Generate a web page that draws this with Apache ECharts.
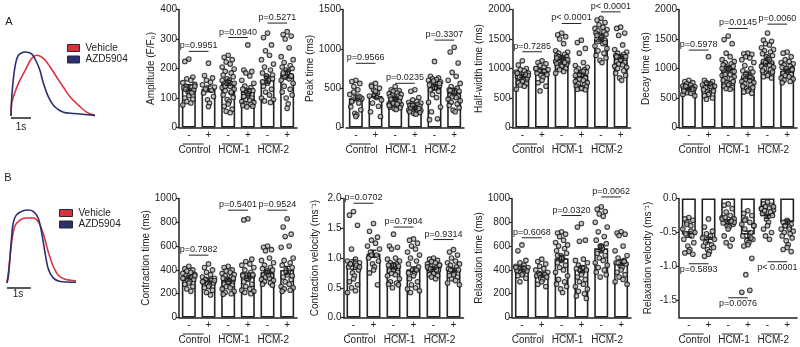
<!DOCTYPE html>
<html>
<head>
<meta charset="utf-8">
<title>AZD5904: calcium and contraction transients</title>
<script src="https://cdn.jsdelivr.net/npm/echarts@6/dist/echarts.min.js"></script>
<style>
  html, body { margin: 0; padding: 0; background: #fff; }
  #chart { width: 800px; height: 347px; }
</style>
</head>
<body>
<div id="chart"></div>
<script>
// ---- categories ----
const conditions = ["C-", "C+", "H1-", "H1+", "H2-", "H2+"];
const conditionLabels = ["-", "+", "-", "+", "-", "+"];
const groups = ["Control", "HCM-1", "HCM-2"];
const legendNames = ["Vehicle", "AZD5904"];

// ---- representative traces [time s, normalised] ----
const traceAVehicle = [[0, 0], [0.03, 0.2], [0.12, 0.3], [0.37, 0.51], [0.7, 0.71], [1.03, 0.9], [1.28, 0.95], [1.62, 0.9], [1.95, 0.77], [2.28, 0.61], [2.62, 0.45], [2.95, 0.3], [3.37, 0.17], [3.78, 0.06], [4.2, 0.01]];
const traceAAzd = [[0, 0], [0.05, 0.35], [0.2, 0.77], [0.37, 0.95], [0.7, 1.0], [1.03, 0.97], [1.28, 0.84], [1.45, 0.71], [1.62, 0.51], [1.87, 0.3], [2.2, 0.14], [2.62, 0.06], [3.12, 0.04], [4.2, 0.01]];
const traceBVehicle = [[0, 0], [0.08, 0.2], [0.18, 0.52], [0.32, 0.77], [0.54, 0.86], [0.82, 0.89], [1.1, 0.89], [1.31, 0.84], [1.52, 0.68], [1.73, 0.43], [1.94, 0.23], [2.15, 0.11], [2.44, 0.05], [2.9, 0.03]];
const traceBAzd = [[0, 0], [0.06, 0.1], [0.18, 0.57], [0.25, 0.8], [0.39, 0.93], [0.68, 0.99], [0.89, 1.0], [1.1, 0.98], [1.31, 0.89], [1.45, 0.7], [1.59, 0.43], [1.73, 0.2], [1.94, 0.07], [2.23, 0.02], [2.9, 0.01]];
const scaleBarSec = [0, 1];

// ---- A: amplitude ----
const ampMean = [136, 131, 151, 122, 162, 179];
const ampSem = [9, 10, 8, 8, 12, 11];
const ampPoints = [
  [232, 224, 171, 165, 160, 152, 146, 140, 137, 134, 128, 122, 117, 108, 100, 96, 88, 83, 76, 140, 130, 118],
  [218, 176, 168, 160, 153, 145, 137, 130, 126, 117, 105, 94, 83, 71],
  [245, 238, 230, 222, 215, 205, 198, 190, 185, 178, 172, 165, 160, 155, 150, 148, 145, 140, 135, 130, 125, 118, 110, 102, 95, 88, 80, 72, 62, 55, 50, 160, 150, 140, 120],
  [280, 195, 190, 185, 175, 160, 150, 140, 135, 130, 125, 120, 115, 110, 105, 100, 95, 92, 88, 85, 80, 78, 75, 72, 70, 125, 115, 105],
  [320, 305, 280, 260, 245, 230, 215, 205, 195, 185, 178, 170, 160, 150, 140, 130, 120, 110, 100, 95, 90, 85, 155, 165, 175],
  [325, 315, 310, 300, 270, 240, 230, 220, 210, 205, 200, 195, 190, 185, 180, 175, 170, 165, 160, 150, 140, 130, 120, 110, 100, 80, 65, 185, 175]
];
const ampP = ["p=0.9951", "p=0.0940", "p=0.5271"];
const ampPLine = [258, 305, 354];

// ---- A: peak time ----
const peakMean = [372, 401, 350, 258, 511, 456];
const peakSem = [30, 28, 12, 12, 35, 40];
const peakPoints = [
  [600, 585, 560, 520, 480, 420, 370, 350, 310, 265, 225, 180, 160, 140, 330, 390, 450, 400],
  [560, 540, 500, 480, 440, 400, 350, 310, 270, 200, 140, 420, 380, 460, 520],
  [520, 480, 470, 460, 440, 430, 420, 410, 400, 390, 380, 370, 360, 350, 340, 330, 320, 310, 300, 290, 280, 270, 260, 250, 240, 230, 350, 360, 330, 310, 300, 280],
  [480, 460, 380, 350, 330, 320, 310, 300, 290, 280, 270, 260, 250, 245, 240, 235, 230, 225, 220, 215, 210, 205, 200, 190, 180, 170, 260, 250, 240, 280],
  [840, 650, 630, 620, 610, 600, 580, 560, 550, 540, 530, 520, 510, 500, 480, 460, 420, 380, 320, 260, 200, 110, 100, 560, 590],
  [1020, 960, 820, 700, 650, 600, 560, 520, 500, 480, 460, 440, 430, 420, 410, 400, 390, 380, 360, 340, 320, 300, 280, 250, 220, 200, 450, 470]
];
const peakP = ["p=0.9566", "p=0.0235", "p=0.3307"];
const peakPLine = [816, 562, 1111];

// ---- A: half-width time ----
const halfMean = [873, 958, 1172, 890, 1493, 1200];
const halfSem = [25, 30, 22, 30, 30, 35];
const halfPoints = [
  [1130, 1060, 1000, 980, 960, 940, 920, 900, 880, 860, 840, 820, 800, 780, 760, 740, 720, 700, 650, 880, 850, 900, 920],
  [1130, 1100, 1080, 1050, 1020, 1000, 980, 960, 940, 920, 900, 880, 850, 800, 760, 700, 620, 950, 1000],
  [1600, 1570, 1540, 1500, 1420, 1300, 1280, 1260, 1240, 1220, 1200, 1190, 1180, 1170, 1160, 1150, 1140, 1130, 1120, 1110, 1100, 1090, 1080, 1070, 1060, 1050, 1040, 1020, 1000, 980, 950, 920, 1150, 1200, 1100, 1180],
  [1480, 1440, 1340, 1260, 1100, 1050, 1020, 1000, 980, 960, 940, 920, 900, 880, 860, 840, 820, 800, 780, 760, 740, 720, 700, 690, 680, 670, 660, 650, 640, 900, 950, 880],
  [1850, 1820, 1780, 1740, 1700, 1680, 1660, 1640, 1620, 1600, 1580, 1560, 1540, 1520, 1500, 1480, 1460, 1420, 1380, 1340, 1300, 1260, 1220, 1180, 1140, 1100, 1520, 1560, 1440],
  [1700, 1680, 1600, 1560, 1400, 1320, 1280, 1260, 1240, 1220, 1200, 1180, 1160, 1140, 1120, 1100, 1080, 1060, 1040, 1020, 1000, 960, 920, 880, 840, 800, 1150, 1200]
];
const halfP = ["p=0.7285", "p< 0.0001", "p< 0.0001"];
const halfPLine = [1284, 1763, 1960];

// ---- A: decay time ----
const decayMean = [654, 738, 1003, 862, 1115, 963];
const decaySem = [12, 30, 30, 30, 30, 25];
const decayPoints = [
  [800, 780, 760, 740, 720, 700, 690, 680, 670, 660, 650, 640, 630, 620, 610, 600, 590, 580, 560, 540, 700, 650, 620],
  [1200, 800, 780, 760, 740, 720, 700, 680, 660, 640, 620, 600, 580, 560, 540, 500, 480, 700],
  [1550, 1490, 1420, 1260, 1200, 1150, 1120, 1100, 1080, 1060, 1040, 1020, 1000, 980, 960, 940, 920, 900, 880, 860, 840, 820, 800, 780, 760, 740, 720, 700, 680, 660, 650, 1000, 950, 900],
  [1260, 1250, 1240, 1200, 1180, 1150, 1100, 1050, 1000, 960, 940, 920, 900, 880, 860, 840, 820, 800, 780, 760, 740, 720, 700, 680, 660, 640, 620, 600, 580, 900, 850],
  [1600, 1480, 1460, 1420, 1400, 1350, 1320, 1300, 1280, 1250, 1220, 1200, 1180, 1150, 1120, 1100, 1080, 1060, 1040, 1020, 1000, 980, 960, 940, 920, 900, 880, 860, 840, 1100, 1150],
  [1280, 1260, 1200, 1150, 1120, 1100, 1080, 1060, 1040, 1020, 1000, 980, 960, 940, 920, 900, 880, 860, 840, 820, 800, 780, 760, 980, 1000]
];
const decayP = ["p=0.5978", "p=0.0145", "p=0.0060"];
const decayPLine = [1312, 1679, 1752];

// ---- B: contraction time ----
const ctMean = [338, 318, 315, 352, 380, 400];
const ctSem = [12, 14, 10, 22, 14, 30];
const ctPoints = [
  [430, 410, 400, 390, 380, 370, 360, 350, 340, 330, 320, 310, 300, 290, 280, 260, 240, 220, 330, 350],
  [450, 420, 400, 380, 360, 340, 330, 320, 310, 300, 290, 280, 270, 260, 250, 230, 210, 190, 300, 310],
  [430, 420, 400, 390, 380, 370, 360, 350, 340, 330, 320, 310, 300, 290, 280, 270, 260, 250, 240, 220, 210, 200, 195, 330, 320, 310, 300],
  [830, 820, 490, 470, 450, 440, 420, 400, 380, 360, 350, 340, 330, 320, 300, 280, 260, 240, 230, 220, 210, 200, 350, 360, 330],
  [600, 590, 570, 560, 500, 480, 460, 440, 420, 410, 400, 390, 380, 370, 360, 350, 340, 330, 320, 310, 300, 290, 280, 270, 380, 360, 390],
  [830, 760, 700, 680, 600, 590, 500, 480, 460, 440, 420, 400, 380, 360, 340, 320, 300, 280, 260, 250, 240, 230, 220, 350, 380]
];
const ctP = ["p=0.7982", "p=0.5401", "p=0.9524"];
const ctPLine = [524, 902, 902];

// ---- B: contraction velocity ----
const cvMean = [0.89, 1.07, 0.87, 0.81, 0.83, 0.80];
const cvSem = [0.08, 0.06, 0.04, 0.04, 0.02, 0.03];
const cvPoints = [
  [1.78, 1.72, 1.55, 1.15, 0.98, 0.95, 0.92, 0.9, 0.88, 0.85, 0.8, 0.75, 0.7, 0.65, 0.6, 0.55, 0.5, 0.45, 0.42, 0.85, 0.9],
  [1.58, 1.45, 1.35, 1.3, 1.25, 1.2, 1.15, 1.1, 1.05, 1.0, 0.95, 0.9, 0.85, 0.8, 0.75, 0.55, 1.05],
  [1.4, 1.2, 1.18, 1.15, 1.0, 0.98, 0.95, 0.92, 0.9, 0.88, 0.86, 0.84, 0.82, 0.8, 0.78, 0.76, 0.74, 0.72, 0.7, 0.65, 0.6, 0.58, 0.56, 0.55, 0.5, 0.85, 0.88],
  [1.32, 1.3, 1.25, 1.2, 1.15, 1.1, 1.05, 1.0, 0.95, 0.9, 0.85, 0.8, 0.75, 0.7, 0.65, 0.6, 0.55, 0.5, 0.48, 0.45, 0.42, 0.8, 0.75],
  [1.0, 0.98, 0.96, 0.94, 0.92, 0.9, 0.88, 0.86, 0.84, 0.82, 0.8, 0.78, 0.76, 0.74, 0.72, 0.7, 0.68, 0.65, 0.85, 0.88, 0.82, 0.8],
  [1.14, 1.1, 1.05, 1.0, 0.95, 0.92, 0.9, 0.88, 0.85, 0.82, 0.8, 0.78, 0.75, 0.72, 0.7, 0.68, 0.65, 0.62, 0.58, 0.55, 0.8]
];
const cvP = ["p=0.0702", "p=0.7904", "p=0.9314"];
const cvPLine = [1.92, 1.52, 1.31];

// ---- B: relaxation time ----
const rtMean = [419, 369, 497, 408, 581, 464];
const rtSem = [14, 13, 25, 25, 30, 22];
const rtPoints = [
  [610, 560, 480, 460, 440, 430, 420, 410, 400, 395, 390, 380, 370, 360, 350, 330, 300, 410, 420],
  [490, 470, 450, 430, 410, 400, 380, 370, 360, 350, 340, 330, 320, 300, 280, 260, 360],
  [720, 710, 700, 680, 650, 630, 610, 600, 580, 560, 540, 520, 500, 480, 460, 440, 420, 400, 380, 350, 320, 300, 280, 260, 240, 210, 500, 520],
  [790, 760, 650, 640, 490, 480, 460, 440, 420, 410, 400, 390, 380, 360, 340, 320, 300, 280, 260, 240, 220, 200, 180, 160, 400, 420],
  [930, 910, 890, 870, 850, 800, 760, 720, 680, 650, 620, 600, 580, 560, 540, 520, 500, 480, 460, 440, 420, 400, 380, 360, 340, 580, 600],
  [720, 710, 700, 690, 600, 560, 520, 500, 480, 460, 450, 440, 420, 400, 380, 360, 340, 320, 300, 280, 460, 470]
];
const rtP = ["p=0.6068", "p=0.0320", "p=0.0062"];
const rtPLine = [670, 857, 1013];

// ---- B: relaxation velocity ----
const rvMean = [-0.53, -0.61, -0.345, -0.53, -0.26, -0.345];
const rvSem = [0.04, 0.04, 0.03, 0.05, 0.03, 0.03];
const rvPoints = [
  [-0.28, -0.3, -0.32, -0.35, -0.4, -0.45, -0.5, -0.52, -0.55, -0.6, -0.65, -0.7, -0.75, -0.78, -0.8, -0.82, -0.38, -0.48],
  [-0.3, -0.42, -0.48, -0.52, -0.55, -0.58, -0.6, -0.65, -0.68, -0.7, -0.72, -0.75, -0.78, -0.82, -0.85],
  [-0.08, -0.1, -0.15, -0.2, -0.25, -0.28, -0.3, -0.32, -0.34, -0.36, -0.38, -0.4, -0.42, -0.45, -0.55, -0.6, -0.65, -0.7, -0.3, -0.35, -0.28, -0.33],
  [-0.18, -0.22, -0.25, -0.3, -0.35, -0.38, -0.4, -0.45, -0.5, -0.55, -0.6, -0.62, -0.65, -0.68, -0.7, -0.88, -1.12, -1.35, -1.38, -0.4, -0.32, -0.58],
  [-0.05, -0.08, -0.1, -0.12, -0.14, -0.15, -0.17, -0.18, -0.2, -0.22, -0.25, -0.3, -0.35, -0.4, -0.45, -0.5, -0.55, -0.6, -0.15, -0.12, -0.18],
  [-0.32, -0.35, -0.38, -0.4, -0.42, -0.45, -0.48, -0.5, -0.52, -0.55, -0.58, -0.62, -0.68, -0.72, -0.75, -0.78, -0.4, -0.45]
];
const rvP = ["p=0.5893", "p=0.0076", "p< 0.0001"];
const rvPLine = [-0.96, -1.46, -0.93];

// ---- styling ----
const FONT = "Liberation Sans, Arial, sans-serif";
const INK = "#222";
const RED = "#d8323c";
const NAVY = "#2b2f70";
const jitterPx = [0, -4, 4, -2, 2, -6, 6, -3, 3, -5, 5, -1, 1];

const rowA = { top: 9.5, height: 118 };
const rowB = { top: 198.5, height: 119 };

const panels = [
  { name: "Amplitude (F/F\u2080)", mean: ampMean, sem: ampSem, pts: ampPoints, p: ampP, pLine: ampPLine, min: 0, max: 400, interval: 100, left: 179, width: 118, row: rowA, nameGap: 15 },
  { name: "Peak time (ms)", mean: peakMean, sem: peakSem, pts: peakPoints, p: peakP, pLine: peakPLine, min: 0, max: 1500, interval: 500, left: 346, width: 118, row: rowA, nameGap: 20, yOffset: 3 },
  { name: "Half-width time (ms)", mean: halfMean, sem: halfSem, pts: halfPoints, p: halfP, pLine: halfPLine, min: 0, max: 2000, interval: 500, left: 512.5, width: 118, row: rowA, nameGap: 27 },
  { name: "Decay time (ms)", mean: decayMean, sem: decaySem, pts: decayPoints, p: decayP, pLine: decayPLine, min: 0, max: 2000, interval: 500, left: 679, width: 118, row: rowA, nameGap: 28 },
  { name: "Contraction time (ms)", mean: ctMean, sem: ctSem, pts: ctPoints, p: ctP, pLine: ctPLine, min: 0, max: 1000, interval: 200, left: 179, width: 118, row: rowB, nameGap: 27 },
  { name: "Contraction velocity (ms\u207B\u00B9)", mean: cvMean, sem: cvSem, pts: cvPoints, p: cvP, pLine: cvPLine, min: 0, max: 2, interval: 0.5, left: 343.5, width: 120, row: rowB, nameGap: 23, dec: 1 },
  { name: "Relaxation time (ms)", mean: rtMean, sem: rtSem, pts: rtPoints, p: rtP, pLine: rtPLine, min: 0, max: 1000, interval: 200, left: 512, width: 119, row: rowB, nameGap: 27 },
  { name: "Relaxation velocity (ms\u207B\u00B9)", mean: rvMean, sem: rvSem, pts: rvPoints, p: rvP, pLine: rvPLine, min: -1.75, max: 0, ticks: [0, -0.5, -1, -1.5], left: 679, width: 118, row: rowB, nameGap: 26, dec: 1, below: true }
];

const grid = [], xAxis = [], yAxis = [], series = [];

panels.forEach((pn, k) => {
  grid.push({ left: pn.left, top: pn.row.top, width: pn.width, height: pn.row.height });

  xAxis.push({
    gridIndex: k, type: "category", data: conditions,
    axisLine: { onZero: false, lineStyle: { color: INK, width: 1.5 } },
    axisTick: { show: false },
    axisLabel: { interval: 0, formatter: (v, i) => conditionLabels[i], margin: 3, fontSize: 10, color: INK, fontFamily: FONT }
  });
  xAxis.push({
    gridIndex: k, type: "category", data: groups, position: "bottom", offset: 14,
    axisLine: { show: false }, axisTick: { show: false },
    axisLabel: { interval: 0, hideOverlap: false, margin: 4, padding: [0, 8, 0, 0], fontSize: 10, color: INK, fontFamily: FONT }
  });

  const fmt = pn.dec ? (v) => v.toFixed(pn.dec) : (v) => String(v);
  const y = {
    gridIndex: k, type: "value", min: pn.min, max: pn.max,
    offset: pn.yOffset || 0,
    name: pn.name, nameLocation: "middle", nameGap: pn.nameGap, nameRotate: 90,
    nameTextStyle: { fontSize: 10, color: INK, fontFamily: FONT },
    axisLine: { show: true, onZero: false, lineStyle: { color: INK, width: 1.5 } },
    axisTick: { show: true, length: 3, lineStyle: { color: INK, width: 1.2 } },
    splitLine: { show: false },
    axisLabel: { margin: 2, fontSize: 10, color: INK, fontFamily: FONT, formatter: fmt }
  };
  if (pn.ticks) {
    y.axisTick.customValues = pn.ticks;
    y.axisLabel.customValues = pn.ticks;
  } else {
    y.interval = pn.interval;
  }
  yAxis.push(y);

  const xi = 2 * k;

  series.push({
    type: "bar", xAxisIndex: xi, yAxisIndex: k, data: pn.mean, barWidth: 14, silent: true, z: 2,
    itemStyle: { color: "#fff", borderColor: INK, borderWidth: 1.6 }
  });

  const dots = [];
  pn.pts.forEach((arr, ci) => arr.forEach((v, j) => {
    dots.push({ value: [ci, v], symbolOffset: [jitterPx[j % jitterPx.length], 0] });
  }));
  series.push({
    type: "scatter", xAxisIndex: xi, yAxisIndex: k, data: dots, symbol: "circle", symbolSize: 4.6, silent: true, z: 3,
    itemStyle: { color: "#b8b8b8", borderColor: "#111", borderWidth: 1.1 }
  });

  // mean +/- SEM
  series.push({
    type: "custom", xAxisIndex: xi, yAxisIndex: k, z: 4, silent: true,
    data: pn.mean.map((m, i) => [i, m, pn.sem[i]]),
    renderItem: (params, api) => {
      const x = api.value(0), m = api.value(1), s = api.value(2);
      const a = api.coord([x, m + s]), b = api.coord([x, m - s]);
      const st = { stroke: INK, lineWidth: 1.4 };
      return { type: "group", children: [
        { type: "line", shape: { x1: a[0], y1: a[1], x2: b[0], y2: b[1] }, style: st },
        { type: "line", shape: { x1: a[0] - 3, y1: a[1], x2: a[0] + 3, y2: a[1] }, style: st },
        { type: "line", shape: { x1: b[0] - 3, y1: b[1], x2: b[0] + 3, y2: b[1] }, style: st }
      ] };
    }
  });

  // p-value brackets and group over-lines
  series.push({
    type: "custom", xAxisIndex: xi, yAxisIndex: k, z: 5, silent: true,
    data: pn.pLine.map((v, g) => [2 * g, v, g]),
    renderItem: (params, api) => {
      const c0 = api.value(0), v = api.value(1), g = api.value(2);
      const a = api.coord([c0, v]), b = api.coord([c0 + 1, v]);
      const base = api.coord([c0, pn.min])[1];
      const mid = (a[0] + b[0]) / 2;
      const st = { stroke: INK, lineWidth: 1 };
      return { type: "group", children: [
        { type: "line", shape: { x1: a[0], y1: a[1], x2: b[0], y2: b[1] }, style: st },
        { type: "text", style: {
            text: pn.p[g], x: mid, y: pn.below ? a[1] + 1 : a[1] - 1,
            textAlign: "center", textVerticalAlign: pn.below ? "top" : "bottom",
            font: "9px " + FONT, fill: INK } },
        { type: "line", shape: { x1: mid - 16, y1: base + 16.5, x2: mid + 5, y2: base + 16.5 }, style: st }
      ] };
    }
  });
});

// ---- representative traces ----
const traces = [
  { left: 11, top: 52, width: 84, height: 64, tmax: 4.2, veh: traceAVehicle, azd: traceAAzd, bar: -0.03 },
  { left: 7, top: 210, width: 69, height: 73, tmax: 2.9, veh: traceBVehicle, azd: traceBAzd, bar: -0.07 }
];
traces.forEach((tr) => {
  const k = grid.length;
  grid.push({ left: tr.left, top: tr.top, width: tr.width, height: tr.height });
  xAxis.push({ gridIndex: k, type: "value", min: 0, max: tr.tmax, show: false });
  yAxis.push({ gridIndex: k, type: "value", min: 0, max: 1, show: false });
  const xi = xAxis.length - 1;
  [["Vehicle", tr.veh, RED], ["AZD5904", tr.azd, NAVY]].forEach(([nm, d, col]) => {
    series.push({
      name: nm, type: "line", xAxisIndex: xi, yAxisIndex: k, data: d, smooth: 0.3, showSymbol: false, clip: false,
      lineStyle: { color: col, width: 1.6 }, itemStyle: { color: col }, silent: true
    });
  });
  series.push({
    type: "line", xAxisIndex: xi, yAxisIndex: k, data: scaleBarSec.map((t) => [t, tr.bar]), showSymbol: false, clip: false,
    lineStyle: { color: INK, width: 1.5 }, silent: true
  });
});

const legendBase = {
  orient: "vertical", icon: "rect", itemWidth: 12, itemHeight: 7, itemGap: 1.5, data: legendNames,
  selectedMode: false, padding: 0,
  itemStyle: { borderColor: "#2a2a2a", borderWidth: 1 },
  textStyle: { fontSize: 10, color: INK, fontFamily: FONT, padding: [0, 0, 0, 1] }
};

const textEl = (txt, x, y, size) => ({
  type: "text", x: x, y: y,
  style: { text: txt, font: size + "px " + FONT, fill: INK, textAlign: "center", textVerticalAlign: "middle" }
});

const chart = echarts.init(document.getElementById("chart"));
chart.setOption({
  animation: false,
  backgroundColor: "#fff",
  grid: grid,
  xAxis: xAxis,
  yAxis: yAxis,
  legend: [
    Object.assign({}, legendBase, { left: 67, top: 43 }),
    Object.assign({}, legendBase, { left: 59, top: 208, itemWidth: 13 })
  ],
  graphic: [
    textEl("A", 9, 22, 11),
    textEl("B", 8, 178, 11),
    textEl("1s", 21, 127, 10),
    textEl("1s", 18, 294, 10)
  ],
  series: series
});
</script>
</body>
</html>
